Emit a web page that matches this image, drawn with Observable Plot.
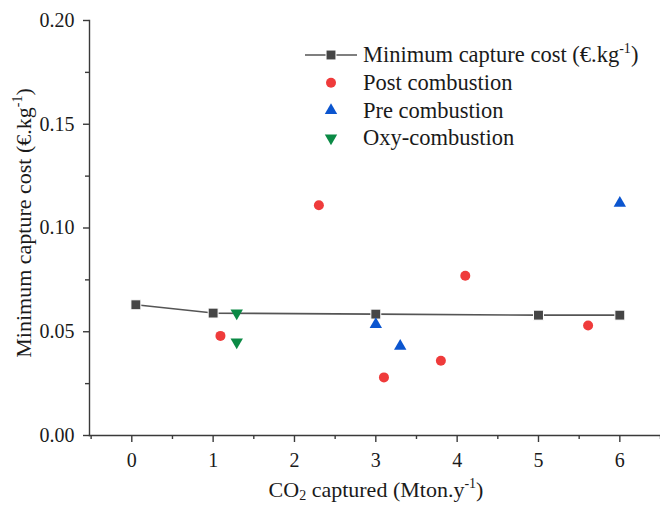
<!DOCTYPE html>
<html>
<head>
<meta charset="utf-8">
<script src="https://cdn.jsdelivr.net/npm/d3@7"></script>
<script src="https://cdn.jsdelivr.net/npm/@observablehq/plot@0.6"></script>
<style>
  html, body { margin: 0; padding: 0; background: white; }
  #chart svg text { font-family: "Liberation Serif", "Times New Roman", serif; }
</style>
</head>
<body>
<div id="chart"></div>
<script>
// ---- data ----
const xTicks = [0, 1, 2, 3, 4, 5, 6];
const xMinorTicks = [-0.5, 0.5, 1.5, 2.5, 3.5, 4.5, 5.5, 6.5];
const yTicks = [0, 0.05, 0.10, 0.15, 0.20];
const yMinorTicks = [0.025, 0.075, 0.125, 0.175];

const minCostX = [0.05, 1.0, 3.0, 5.0, 6.0];
const minCostY = [0.063, 0.059, 0.0585, 0.058, 0.058];

const postX = [1.09, 2.30, 3.10, 3.80, 4.10, 5.61];
const postY = [0.048, 0.111, 0.028, 0.036, 0.077, 0.053];

const preX = [3.0, 3.3, 6.0];
const preY = [0.0535, 0.043, 0.112];

const oxyX = [1.29, 1.29];
const oxyY = [0.059, 0.045];

const seriesNames = ["Minimum capture cost", "Post combustion", "Pre combustion", "Oxy-combustion"];

// ---- styles ----
const colMin = "#454545", colLine = "#555555";
const colPost = "#ef3b3b", colPre = "#0b55cf", colOxy = "#0b8a45";
const FONT = "Liberation Serif";
const TITLE_SIZE = 22;
const LEGEND_SIZE = 22.5;

const rows = (xs, ys) => xs.map((x, i) => ({x, y: ys[i]}));
const minRows = rows(minCostX, minCostY);
const postRows = rows(postX, postY);
const preRows = rows(preX, preY);
const oxyRows = rows(oxyX, oxyY);

const axisStyle = {stroke: "#3a3a3a", strokeWidth: 1.4, fontFamily: FONT, fontSize: 20, label: null};

const chart = Plot.plot({
  width: 660,
  height: 506,
  marginLeft: 89,
  marginRight: 0,
  marginTop: 20,
  marginBottom: 71,
  style: {fontFamily: FONT, fontSize: "20px", color: "#1a1a1a", background: "white"},
  x: {domain: [-0.52, 6.5]},
  y: {domain: [0, 0.2]},
  marks: [
    Plot.frame({anchor: "left", stroke: "#3a3a3a", strokeWidth: 1.4}),
    Plot.frame({anchor: "bottom", stroke: "#3a3a3a", strokeWidth: 1.4}),
    Plot.axisX({...axisStyle, ticks: xTicks, tickSize: 7, tickPadding: 10, tickFormat: d => String(d)}),
    Plot.axisX({...axisStyle, ticks: xMinorTicks, tickSize: 4, tickFormat: () => ""}),
    Plot.axisY({...axisStyle, ticks: yTicks, tickSize: 6, tickPadding: 9, tickFormat: d3.format(".2f")}),
    Plot.axisY({...axisStyle, ticks: yMinorTicks, tickSize: 4, tickFormat: () => ""}),
    Plot.line(minRows, {x: "x", y: "y", stroke: colLine, strokeWidth: 1.6}),
    Plot.dot(minRows, {x: "x", y: "y", symbol: "square", r: 5.6, fill: colMin, stroke: "white", strokeWidth: 1}),
    Plot.dot(postRows, {x: "x", y: "y", symbol: "circle", r: 5, fill: colPost}),
    Plot.dot(preRows, {x: "x", y: "y", symbol: "triangle", r: 4.6, fill: colPre}),
    Plot.dot(oxyRows, {x: "x", y: "y", symbol: "triangle", r: 4.6, fill: colOxy, rotate: 180})
  ]
});

document.getElementById("chart").appendChild(chart);

const svg = d3.select(chart);

// Y axis title
const yt = svg.append("text")
  .attr("transform", "translate(31,223) rotate(-90)")
  .attr("text-anchor", "middle")
  .attr("font-family", FONT).attr("font-size", TITLE_SIZE).attr("fill", "#1a1a1a");
yt.append("tspan").text("Minimum capture cost (€.kg");
yt.append("tspan").attr("dy", -9).attr("font-size", 14).text("-1");
yt.append("tspan").attr("dy", 9).text(")");

// X axis title
const xt = svg.append("text")
  .attr("x", 376).attr("y", 497)
  .attr("text-anchor", "middle")
  .attr("font-family", FONT).attr("font-size", TITLE_SIZE).attr("fill", "#1a1a1a");
xt.append("tspan").text("CO");
xt.append("tspan").attr("dy", 3).attr("font-size", 14).text("2");
xt.append("tspan").attr("dy", -3).text(" captured (Mton.y");
xt.append("tspan").attr("dy", -9).attr("font-size", 14).text("-1");
xt.append("tspan").attr("dy", 9).text(")");

// Legend
const legend = svg.append("g").attr("font-family", FONT).attr("font-size", LEGEND_SIZE)
  .attr("fill", "#1a1a1a").attr("text-anchor", "start");
const legendSymbols = [
  {type: "line", color: colMin},
  {type: d3.symbolCircle, size: Math.PI * 25, color: colPost, rot: 0},
  {type: d3.symbolTriangle, size: Math.PI * 4.6 * 4.6, color: colPre, rot: 0},
  {type: d3.symbolTriangle, size: Math.PI * 4.6 * 4.6, color: colOxy, rot: 180}
];
seriesNames.forEach((name, i) => {
  const g = legend.append("g").attr("transform", `translate(331,${55 + i * 27.7})`);
  const s = legendSymbols[i];
  if (s.type === "line") {
    g.append("line").attr("x1", -26).attr("x2", 26).attr("y1", 0).attr("y2", 0)
      .attr("stroke", colLine).attr("stroke-width", 1.6);
    g.append("path").attr("d", d3.symbol(d3.symbolSquare, Math.PI * 5.6 * 5.6)())
      .attr("fill", colMin).attr("stroke", "white").attr("stroke-width", 1);
  } else {
    g.append("path").attr("d", d3.symbol(s.type, s.size)())
      .attr("transform", `rotate(${s.rot})`).attr("fill", s.color);
  }
  const t = g.append("text").attr("x", 32).attr("y", 0).attr("dy", "0.32em").attr("text-anchor", "start");
  if (i === 0) {
    t.append("tspan").text(name + " (€.kg");
    t.append("tspan").attr("dy", -9).attr("font-size", 14).text("-1");
    t.append("tspan").attr("dy", 9).text(")");
  } else {
    t.text(name);
  }
});
</script>
</body>
</html>
